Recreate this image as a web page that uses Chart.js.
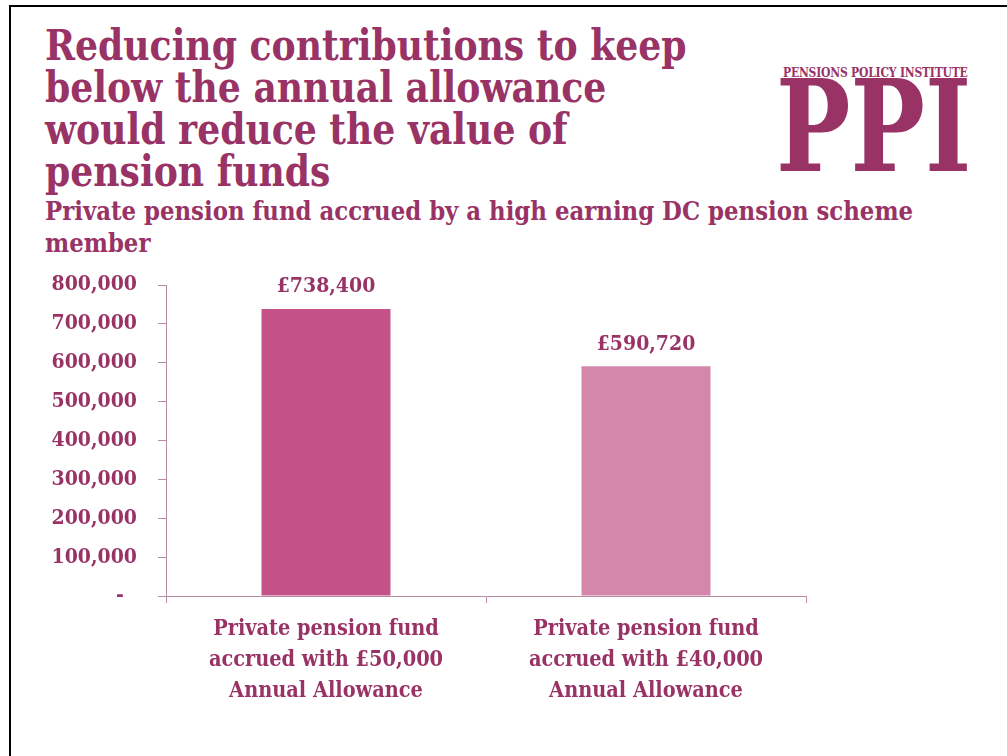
<!DOCTYPE html>
<html>
<head>
<meta charset="utf-8">
<script src="https://cdn.jsdelivr.net/npm/chart.js@4/dist/chart.umd.min.js"></script>
<style>
  html, body { margin: 0; padding: 0; background: #fff; }
  body { width: 1007px; height: 756px; position: relative; overflow: hidden; }
  .frame { position: absolute; left: 9px; top: 5px; width: 1010px; height: 800px;
           border-left: 2px solid #000; border-top: 2px solid #000; }
  .serif { font-family: "DejaVu Serif Condensed", "DejaVu Serif", serif; font-weight: bold; color: #993366; }
  #headline { position: absolute; left: 45px; top: 24px; font-size: 40.2px; line-height: 39.6px; margin: 0;
              transform: scaleY(1.06); transform-origin: left top; }
  #subtitle { position: absolute; left: 45px; top: 195px; font-size: 25.4px; line-height: 32px; margin: 0; width: 920px; }
  #logo-small { position: absolute; left: 783px; top: 66px; font-size: 12px; letter-spacing: -0.2px; }
  #logo-big { position: absolute; left: 776px; top: 62px; font-size: 128px; line-height: 128px;
              transform: scaleX(0.86); transform-origin: left top; }
  #chartBox { position: absolute; left: 0; top: 0; width: 1007px; height: 756px; }
</style>
</head>
<body>
<div class="frame"></div>
<h1 id="headline" class="serif">Reducing contributions to keep<br>below the annual allowance<br>would reduce the value of<br>pension funds</h1>
<h2 id="subtitle" class="serif">Private pension fund accrued by a high earning DC pension scheme member</h2>
<div id="logo-big" class="serif">PPI</div>
<div id="logo-small" class="serif">PENSIONS POLICY INSTITUTE</div>
<div id="chartBox"><canvas id="fund"></canvas></div>
<script>
// Accrued fund under each annual allowance
const categories = [
    ['Private pension fund', 'accrued with £50,000', 'Annual Allowance'],
    ['Private pension fund', 'accrued with £40,000', 'Annual Allowance']
];
const fundValues = [738400, 590720];
const yTicks = [0, 100000, 200000, 300000, 400000, 500000, 600000, 700000, 800000];

const plum = '#993366';
const axisColor = '#b98ba5';
const serif = '"DejaVu Serif Condensed", "DejaVu Serif", serif';

// writes the £ value above each bar
const valueLabels = {
    id: 'valueLabels',
    afterDatasetsDraw(chart) {
        const ctx = chart.ctx;
        const meta = chart.getDatasetMeta(0);
        ctx.save();
        ctx.font = 'bold 21px ' + serif;
        ctx.fillStyle = plum;
        ctx.textAlign = 'center';
        ctx.textBaseline = 'middle';
        meta.data.forEach((bar, i) => {
            ctx.fillText('£' + fundValues[i].toLocaleString('en-GB'), bar.x, bar.y - 22);
        });
        ctx.restore();
    }
};

var fund = document.getElementById('fund').getContext('2d');
var fundChart = new Chart(fund, {
    type: 'bar',
    data: {
        labels: categories,
        datasets: [{
            data: fundValues,
            backgroundColor: ['#c45287', '#d586ab'],
            borderWidth: 0,
            categoryPercentage: 1,
            barPercentage: 0.403
        }]
    },
    options: {
        responsive: true,
        maintainAspectRatio: false,
        animation: false,
        layout: { padding: { top: 285, left: 0, right: 201, bottom: 0 } },
        plugins: {
            legend: { display: false },
            tooltip: { enabled: false }
        },
        scales: {
            x: {
                afterFit(scale) { scale.height = 160; },
                grid: { drawOnChartArea: false, offset: true, tickLength: 7, color: axisColor },
                border: { color: axisColor, width: 1 },
                ticks: { color: plum, padding: 11, font: { family: serif, size: 21.5, weight: 'bold', lineHeight: 1.44 } }
            },
            y: {
                min: 0,
                max: 800000,
                afterFit(scale) { scale.width = 166; },
                afterBuildTicks(scale) { scale.ticks = yTicks.map(v => ({ value: v })); },
                grid: { drawOnChartArea: false, tickLength: 8, color: axisColor },
                border: { color: axisColor, width: 1 },
                ticks: {
                    color: plum,
                    padding: 21,
                    font: { family: serif, size: 21, weight: 'bold' },
                    callback: v => v === 0 ? '-  ' : v.toLocaleString('en-GB')
                }
            }
        }
    },
    plugins: [valueLabels]
});
</script>
</body>
</html>
